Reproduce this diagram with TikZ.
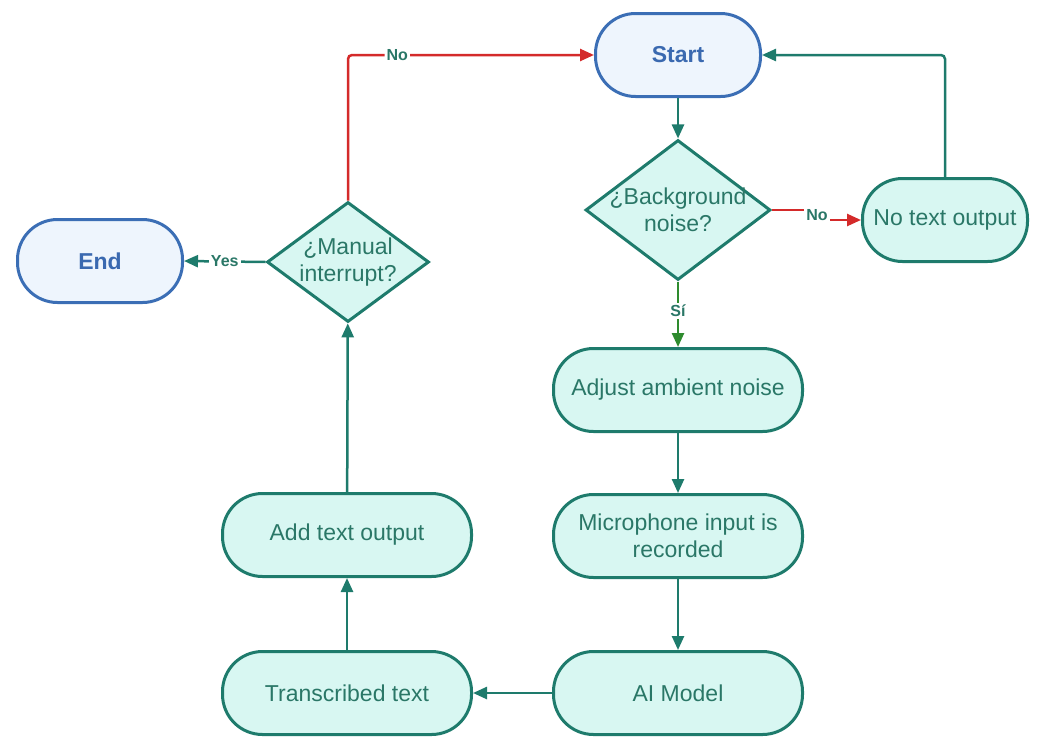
\documentclass[tikz,border=0pt]{standalone}
\usepackage{fontspec}
\setmainfont{Liberation Sans}
\usetikzlibrary{shapes.geometric,arrows.meta}
\definecolor{tealline}{HTML}{1E7B6C}
\definecolor{tealfill}{HTML}{D8F7F2}
\definecolor{tealtext}{HTML}{2A7767}
\definecolor{termline}{HTML}{3B6EB5}
\definecolor{termfill}{HTML}{EEF5FD}
\definecolor{termtext}{HTML}{3A69B0}
\definecolor{noline}{HTML}{D42A2A}
\definecolor{yesline}{HTML}{2E8B2E}

\tikzset{
  proc/.style={draw=tealline, line width=3pt, fill=tealfill, rounded corners=40pt,
    minimum width=249pt, minimum height=83pt, text=tealtext, align=center,
    font=\fontsize{23}{27}\selectfont},
  term/.style={proc, draw=termline, fill=termfill, text=termtext, minimum width=165pt,
    font=\fontsize{23}{27}\selectfont\bfseries},
  decision/.style={diamond, draw=tealline, line width=3pt, fill=tealfill, text=tealtext,
    inner sep=-14pt, align=center, font=\fontsize{23}{27}\selectfont},
  flow/.style={draw=tealline, line width=2.5pt, -{Triangle[length=14pt,width=12pt]}},
  lbl/.style={fill=white, text=tealtext, inner sep=2pt, font=\fontsize{16}{18}\selectfont\bfseries},
}

\begin{document}
\begin{tikzpicture}[x=1pt,y=-1pt]
\useasboundingbox (0,0) rectangle (1040,736);

\node[term] (start) at (678,55) {Start};
\node[decision, minimum width=185pt, minimum height=140pt] (noise) at (678,210) {¿Background\\noise?};
\node[proc, minimum width=165pt] (notext) at (945,220) {No text output};
\node[proc] (adjust) at (678,390) {Adjust ambient noise};
\node[proc] (mic) at (678,536) {Microphone input is\\recorded};
\node[proc] (model) at (678,693) {AI Model};
\node[proc] (transcr) at (347,693) {Transcribed text};
\node[proc] (addtext) at (347,535) {Add text output};
\node[decision, minimum width=162pt, minimum height=120pt] (manual) at (348,262) {¿Manual\\interrupt?};
\node[term] (end) at (100,261) {End};

\draw[flow] (start) -- (noise);
\draw[flow, draw=noline] (noise.east) -- ([xshift=45pt]noise.east) |- node[lbl, pos=.25] {No} (notext.west);
\draw[flow, draw=yesline] (noise) -- node[lbl, pos=.45] {Sí} (adjust);
\draw[flow, rounded corners=4pt] (notext.north) |- (start.east);
\draw[flow] (adjust) -- (mic);
\draw[flow] (mic) -- (model);
\draw[flow] (model) -- (transcr);
\draw[flow] (transcr) -- (addtext);
\draw[flow] (addtext) -- (manual);
\draw[flow] (manual.west) -- node[lbl, pos=.5] {Yes} (end.east);
\draw[flow, draw=noline, rounded corners=4pt] (manual.north) |- node[lbl, pos=.6] {No} (start.west);
\end{tikzpicture}
\end{document}
